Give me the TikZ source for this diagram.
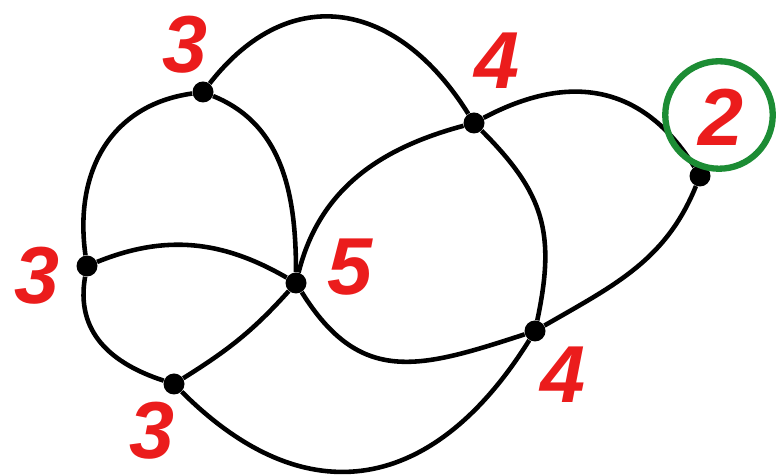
\documentclass[tikz,border=0pt]{standalone}
\usepackage{fontspec}
\setsansfont{Liberation Sans}
\definecolor{degred}{RGB}{235,28,28}
\definecolor{ringgreen}{RGB}{28,140,52}
\tikzset{
  vertex/.style={circle,fill=black,inner sep=0pt,minimum size=0.42cm},
  edgeline/.style={draw=black,line width=2.6pt},
  deglabel/.style={font=\sffamily\bfseries\itshape\fontsize{46}{46}\selectfont,text=degred,inner sep=0pt},
  ringmark/.style={circle,draw=ringgreen,line width=3.6pt,minimum size=2.15cm,inner sep=0pt},
}

\begin{document}
\begin{tikzpicture}[x=0.02cm,y=0.02cm]
        \useasboundingbox (0,0) rectangle (776,475);
        % vertices
        \node[vertex] (a) at (203,383) {};
        \node[vertex] (b) at (474,352) {};
        \node[vertex] (c) at (700,299) {};
        \node[vertex] (d) at (87,209) {};
        \node[vertex] (e) at (296,192) {};
        \node[vertex] (f) at (535,144) {};
        \node[vertex] (g) at (174,91) {};
        % edges
        \draw[edgeline] (a) to[out=52,in=122,looseness=1.3] (b);
        \draw[edgeline] (a) to[out=188,in=98,looseness=1.1] (d);
        \draw[edgeline] (a) to[out=-22,in=90,looseness=1.0] (e);
        \draw[edgeline] (b) to[out=195,in=76,looseness=1.0] (e);
        \draw[edgeline] (d) to[out=22,in=150,looseness=1.0] (e);
        \draw[edgeline] (d) to[out=260,in=162,looseness=1.1] (g);
        \draw[edgeline] (g) to[out=32,in=228] (e);
        \draw[edgeline] (e) to[out=-58,in=198,looseness=1.25] (f);
        \draw[edgeline] (g) to[out=-45,in=238,looseness=1.3] (f);
        \draw[edgeline] (b) to[out=-45,in=78,looseness=1.15] (f);
        \draw[edgeline] (b) to[out=28,in=122,looseness=1.15] (c);
        \draw[edgeline] (c) to[out=248,in=30] (f);
        % degrees
        \node[ringmark] (ring) at (719,360) {};
        \node[deglabel] (la) at (185,430) {3};
        \node[deglabel] (lb) at (497,414) {4};
        \node[deglabel] (lc) at (721,358) {2};
        \node[deglabel] (ld) at (37,199) {3};
        \node[deglabel] (le) at (350,208) {5};
        \node[deglabel] (lf) at (563,100) {4};
        \node[deglabel] (lg) at (152,44) {3};
      \end{tikzpicture}
\end{document}
